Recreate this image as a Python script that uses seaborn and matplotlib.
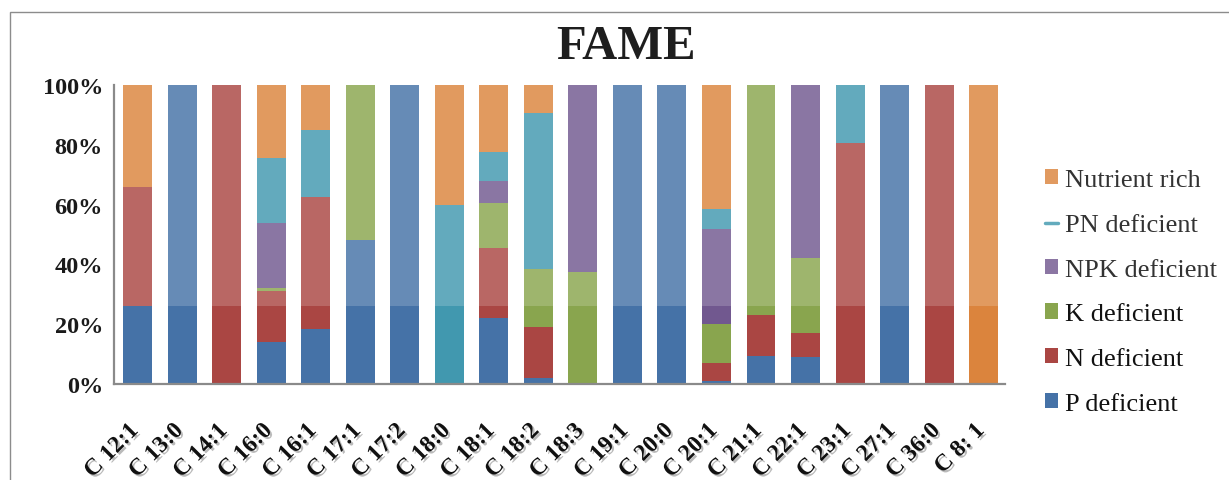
import numpy as np
import pandas as pd
import seaborn as sns
import matplotlib
matplotlib.use("Agg")
import matplotlib.pyplot as plt
import matplotlib.patches as mpatches
import matplotlib.patheffects as pe
import matplotlib.transforms as mtransforms
from matplotlib.colors import to_rgb
from matplotlib.lines import Line2D
from matplotlib.ticker import FuncFormatter

# Fatty acid methyl ester composition, share (%) per treatment
categories = ["C 12:1", "C 13:0", "C 14:1", "C 16:0", "C 16:1", "C 17:1", "C 17:2",
              "C 18:0", "C 18:1", "C 18:2", "C 18:3", "C 19:1", "C 20:0", "C 20:1",
              "C 21:1", "C 22:1", "C 23:1", "C 27:1", "C 36:0", "C 8: 1"]
p_deficient   = [26, 100, 0, 14, 18.5, 48, 100, 0, 22, 2, 0, 100, 100, 1, 9.5, 9, 0, 100, 0, 0]
n_deficient   = [40, 0, 100, 17, 44, 0, 0, 0, 23.5, 17, 0, 0, 0, 6, 13.5, 8, 80.5, 0, 100, 0]
k_deficient   = [0, 0, 0, 1, 0, 52, 0, 0, 15, 19.5, 37.5, 0, 0, 13, 77, 25, 0, 0, 0, 0]
npk_deficient = [0, 0, 0, 22, 0, 0, 0, 0, 7.5, 0, 62.5, 0, 0, 32, 0, 58, 0, 0, 0, 0]
pn_deficient  = [0, 0, 0, 21.5, 22.5, 0, 0, 60, 9.5, 52, 0, 0, 0, 6.5, 0, 0, 19.5, 0, 0, 0]
nutrient_rich = [34, 0, 0, 24.5, 15, 0, 0, 40, 22.5, 9.5, 0, 0, 0, 41.5, 0, 0, 0, 0, 0, 100]

series_names = ["P deficient", "N deficient", "K deficient",
                "NPK deficient", "PN deficient", "Nutrient rich"]
series_values = [p_deficient, n_deficient, k_deficient,
                 npk_deficient, pn_deficient, nutrient_rich]
series_colors = ["#4572A7", "#AA4643", "#89A54E", "#71588F", "#4198AF", "#DB843D"]

HAZE = 0.18


def hazed(color):
    r, g, b = to_rgb(color)
    return tuple(c * (1 - HAZE) + HAZE for c in (r, g, b))


sns.set_theme(style="white")
plt.rcParams["font.family"] = ["Liberation Serif", "DejaVu Serif"]

W, H = 1229, 481
fig = plt.figure(figsize=(W / 100, H / 100), dpi=100)
ax = fig.add_axes([114 / W, 1 - 385 / H, (1005 - 114) / W, (385 - 86) / H])

df = pd.DataFrame({"category": categories})
for name, vals in zip(series_names, series_values):
    df[name] = np.array(vals, dtype=float) / 100.0
cum = df[series_names].cumsum(axis=1)

# Stacked bars: draw cumulative totals from the top series down
for name, color in zip(reversed(series_names), reversed(series_colors)):
    sns.barplot(data=pd.DataFrame({"category": categories, "v": cum[name]}),
                x="category", y="v", color=color, width=0.65,
                saturation=1, edgecolor="none", linewidth=0, ax=ax)

ax.set_ylim(0, 1)
ax.set_xlim(-0.53, len(categories) - 0.52)
ax.set_yticks(np.arange(0, 1.01, 0.2))
ax.yaxis.set_major_formatter(FuncFormatter(lambda v, _: f"{v * 100:.0f}%"))
ax.set_xlabel("")
ax.set_ylabel("")
for s in ["top", "right"]:
    ax.spines[s].set_visible(False)
for s in ["left", "bottom"]:
    ax.spines[s].set_color("#8a8a8a")
    ax.spines[s].set_linewidth(1.6)
ax.tick_params(axis="both", length=0)
ax.tick_params(axis="y", pad=8)
ax.tick_params(axis="x", pad=26)

# Light haze over the upper part of the plotting area (above the bars' lower band)
ax.add_patch(mpatches.Rectangle((-1, 0.26), len(categories) + 2, 0.8,
                                facecolor="white", edgecolor="none",
                                alpha=HAZE, zorder=2))

for lab in ax.get_yticklabels():
    lab.set_fontsize(17.5)
    lab.set_fontweight("bold")
    lab.set_color("#1a1a1a")

shadow = [pe.SimplePatchShadow(offset=(1.5, -1.5), shadow_rgbFace="#777777", alpha=0.5),
          pe.Normal()]
ax.set_xticks(range(len(categories)))
ax.set_xticklabels(categories, rotation=45, ha="right", fontsize=17,
                   fontweight="bold", color="#111111")
shift = mtransforms.ScaledTranslation(5 / 100, 0, fig.dpi_scale_trans)
for lab in ax.get_xticklabels():
    lab.set_path_effects(shadow)
    lab.set_transform(lab.get_transform() + shift)

# Title over the chart area
fig.text(626 / W, 1 - 47 / H, "FAME", ha="center", va="center",
         fontsize=35, fontweight="bold", color="#1e1e1e")

# Legend, listed from the top of the stack down
legend_names = list(reversed(series_names))
legend_colors = list(reversed(series_colors))
handles = []
for i, (name, color) in enumerate(zip(legend_names, legend_colors)):
    c = hazed(color) if i < 3 else color
    if name == "PN deficient":
        handles.append(Line2D([0], [0], color=c, lw=2.5))
    else:
        handles.append(mpatches.Patch(facecolor=c, edgecolor="none"))
leg = fig.legend(handles, legend_names, loc="center left",
                 bbox_to_anchor=(1045 / W, 1 - 293 / H), frameon=False,
                 fontsize=19, handlelength=0.5, handleheight=0.5,
                 handletextpad=0.25, labelspacing=0.86, borderpad=0,
                 borderaxespad=0)
for i, t in enumerate(leg.get_texts()):
    t.set_color("#333333" if i < 3 else "#111111")

# Chart-area frame
fig.add_artist(mpatches.Rectangle((10 / W, -0.1), 1.2, 1 - 13 / H + 0.1,
                                  transform=fig.transFigure, fill=False,
                                  edgecolor="#8c8c8c", linewidth=1.0))

fig.savefig("out.png", dpi=100, facecolor="white")
